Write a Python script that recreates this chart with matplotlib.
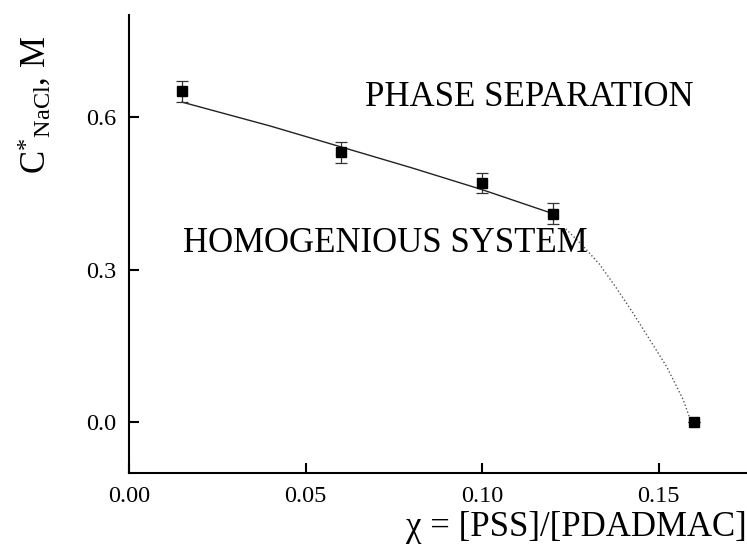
import matplotlib.pyplot as plt
import numpy as np

plt.rcParams['font.family'] = ['Liberation Serif', 'DejaVu Serif']
plt.rcParams['mathtext.fontset'] = 'custom'
plt.rcParams['mathtext.rm'] = 'Liberation Serif'
plt.rcParams['mathtext.it'] = 'Liberation Serif:italic'

# measured critical salt concentration vs. composition
chi = [0.015, 0.06, 0.10, 0.12, 0.16]
c_nacl = [0.65, 0.53, 0.47, 0.41, 0.0]
c_err = [0.02, 0.02, 0.02, 0.02, 0.0]

# solid fitted boundary
fit_chi = [0.015, 0.04, 0.06, 0.08, 0.10, 0.12]
fit_c = [0.629, 0.582, 0.541, 0.500, 0.457, 0.410]

# dotted extrapolation down to zero salt
extr_chi = [0.1237, 0.1286, 0.1333, 0.1380, 0.1427, 0.1475, 0.1522, 0.1569, 0.1586]
extr_c = [0.380, 0.346, 0.310, 0.264, 0.215, 0.162, 0.110, 0.045, 0.012]

fig = plt.figure(figsize=(7.47, 5.52), dpi=100)
ax = fig.add_axes([0.1727, 0.1426, 0.8273, 0.8302])

ax.plot(fit_chi, fit_c, '-', color='#222222', linewidth=1.0)
ax.plot(extr_chi, extr_c, ':', color='#555555', linewidth=1.0)
ax.errorbar(chi, c_nacl, yerr=c_err, fmt='s', color='black', markersize=7,
            ecolor='#333333', elinewidth=0.9, capsize=4, capthick=0.9)

ax.text(0.1134, 0.638, 'PHASE SEPARATION', fontsize=25, ha='center', va='center')
ax.text(0.0726, 0.352, 'HOMOGENIOUS SYSTEM', fontsize=25, ha='center', va='center')

ax.set_xlim(0, 0.175)
ax.set_ylim(-0.1, 0.8)
ax.set_xticks([0.0, 0.05, 0.10, 0.15])
ax.set_xticklabels(['0.00', '0.05', '0.10', '0.15'])
ax.set_yticks([0.0, 0.3, 0.6])
ax.set_yticklabels(['0.0', '0.3', '0.6'])

for side in ['top', 'right']:
    ax.spines[side].set_visible(False)
for side in ['left', 'bottom']:
    ax.spines[side].set_linewidth(1.5)
ax.tick_params(direction='in', length=7, width=1.5, labelsize=17.5, pad=9)

fig.text(0.047, 0.81, r'$\mathrm{C^{*}{}_{NaCl}}$, M', rotation=90,
         fontsize=25, ha='center', va='center')
fig.text(0.999, 0.045, 'χ = [PSS]/[PDADMAC]', fontsize=25, ha='right', va='center')

fig.savefig('out.png', dpi=100)
